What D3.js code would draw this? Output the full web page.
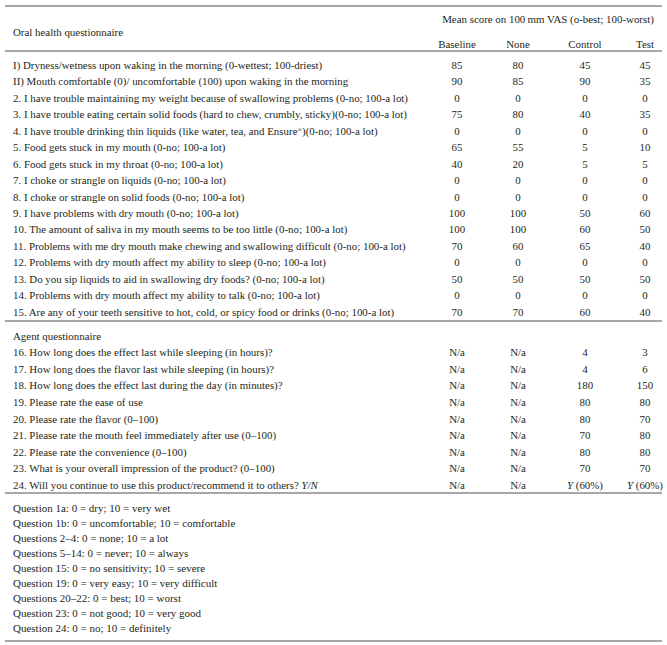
<!DOCTYPE html>
<html>
<head>
<meta charset="utf-8">
<script src="https://cdn.jsdelivr.net/npm/d3@7"></script>
<style>
  body { margin: 0; background: #fff; }
  text { font-family: "Liberation Serif", "DejaVu Serif", serif; fill: #231f20; }
</style>
</head>
<body>
<div id="wrapper"></div>
<script>
// table data
const columns = ['Baseline', 'None', 'Control', 'Test']

const oralQuestions = [
  'I) Dryness/wetness upon waking in the morning (0-wettest; 100-driest)',
  'II) Mouth comfortable (0)/ uncomfortable (100) upon waking in the morning',
  '2. I have trouble maintaining my weight because of swallowing problems (0-no; 100-a lot)',
  '3. I have trouble eating certain solid foods (hard to chew, crumbly, sticky)(0-no; 100-a lot)',
  '4. I have trouble drinking thin liquids (like water, tea, and Ensure®)(0-no; 100-a lot)',
  '5. Food gets stuck in my mouth (0-no; 100-a lot)',
  '6. Food gets stuck in my throat (0-no; 100-a lot)',
  '7. I choke or strangle on liquids (0-no; 100-a lot)',
  '8. I choke or strangle on solid foods (0-no; 100-a lot)',
  '9. I have problems with dry mouth (0-no; 100-a lot)',
  '10. The amount of saliva in my mouth seems to be too little (0-no; 100-a lot)',
  '11. Problems with me dry mouth make chewing and swallowing difficult (0-no; 100-a lot)',
  '12. Problems with dry mouth affect my ability to sleep (0-no; 100-a lot)',
  '13. Do you sip liquids to aid in swallowing dry foods? (0-no; 100-a lot)',
  '14. Problems with dry mouth affect my ability to talk (0-no; 100-a lot)',
  '15. Are any of your teeth sensitive to hot, cold, or spicy food or drinks (0-no; 100-a lot)'
]
const oralBaseline = [85, 90, 0, 75, 0, 65, 40, 0, 0, 100, 100, 70, 0, 50, 0, 70]
const oralNone     = [80, 85, 0, 80, 0, 55, 20, 0, 0, 100, 100, 60, 0, 50, 0, 70]
const oralControl  = [45, 90, 0, 40, 0, 5, 5, 0, 0, 50, 60, 65, 0, 50, 0, 60]
const oralTest     = [45, 35, 0, 35, 0, 10, 5, 0, 0, 60, 50, 40, 0, 50, 0, 40]

const agentQuestions = [
  '16. How long does the effect last while sleeping (in hours)?',
  '17. How long does the flavor last while sleeping (in hours)?',
  '18. How long does the effect last during the day (in minutes)?',
  '19. Please rate the ease of use',
  '20. Please rate the flavor (0–100)',
  '21. Please rate the mouth feel immediately after use (0–100)',
  '22. Please rate the convenience (0–100)',
  '23. What is your overall impression of the product? (0–100)',
  '24. Will you continue to use this product/recommend it to others? Y/N'
]
const agentBaseline = ['N/a', 'N/a', 'N/a', 'N/a', 'N/a', 'N/a', 'N/a', 'N/a', 'N/a']
const agentNone     = ['N/a', 'N/a', 'N/a', 'N/a', 'N/a', 'N/a', 'N/a', 'N/a', 'N/a']
const agentControl  = ['4', '4', '180', '80', '80', '70', '80', '70', 'Y (60%)']
const agentTest     = ['3', '6', '150', '80', '70', '80', '80', '70', 'Y (60%)']

const footnotes = [
  'Question 1a: 0 = dry; 10 = very wet',
  'Question 1b: 0 = uncomfortable; 10 = comfortable',
  'Questions 2–4: 0 = none; 10 = a lot',
  'Questions 5–14: 0 = never; 10 = always',
  'Question 15: 0 = no sensitivity; 10 = severe',
  'Question 19: 0 = very easy; 10 = very difficult',
  'Questions 20–22: 0 = best; 10 = worst',
  'Question 23: 0 = not good; 10 = very good',
  'Question 24: 0 = no; 10 = definitely'
]

function drawTable() {
  const width = 667
  const height = 645
  const left = 13
  const fontSize = 10.9

  const svg = d3.select('#wrapper')
    .append('svg')
      .attr('width', width)
      .attr('height', height)

  // scales
  const colX = d3.scaleOrdinal()
    .domain(columns)
    .range([457, 518, 585, 645])

  const oralY = d3.scaleLinear()
    .domain([0, oralQuestions.length - 1])
    .range([65, 312])

  const agentY = d3.scaleLinear()
    .domain([-1, agentQuestions.length - 1])
    .range([336, 485])

  const noteY = d3.scaleLinear()
    .domain([0, footnotes.length - 1])
    .range([508, 628])

  // rules
  const rules = [6, 51, 321, 493, 641]
  svg.selectAll('.rule')
    .data(rules)
    .enter().append('line')
      .attr('class', 'rule')
      .attr('x1', 5)
      .attr('x2', 662)
      .attr('y1', d => d)
      .attr('y2', d => d)
      .attr('stroke', '#8a8a8a')
      .attr('stroke-width', 1.3)

  // header
  svg.append('text')
    .attr('x', left)
    .attr('y', 32)
    .attr('dy', '0.35em')
    .style('font-size', fontSize + 'px')
    .text('Oral health questionnaire')

  svg.append('text')
    .attr('x', 548)
    .attr('y', 19)
    .attr('dy', '0.35em')
    .attr('text-anchor', 'middle')
    .style('font-size', fontSize + 'px')
    .text('Mean score on 100\u2009mm VAS (o-best; 100-worst)')

  svg.selectAll('.colhead')
    .data(columns)
    .enter().append('text')
      .attr('class', 'colhead')
      .attr('x', d => colX(d))
      .attr('y', 44)
      .attr('dy', '0.35em')
      .attr('text-anchor', 'middle')
      .style('font-size', fontSize + 'px')
      .text(d => d)

  // label with superscript ® and italic Y/N
  const writeLabel = (sel, label) => {
    if (label.includes('®')) {
      const [a, b] = label.split('®')
      sel.append('tspan').text(a)
      sel.append('tspan').attr('dy', -3).style('font-size', '6px').text('®')
      sel.append('tspan').attr('dy', 3).text(b)
    } else if (label.endsWith('Y/N')) {
      sel.append('tspan').text(label.slice(0, -3))
      sel.append('tspan').style('font-style', 'italic').text('Y/N')
    } else {
      sel.text(label)
    }
  }

  const writeValue = (sel, v) => {
    v = String(v)
    if (v.startsWith('Y ')) {
      sel.append('tspan').style('font-style', 'italic').text('Y')
      sel.append('tspan').text(v.slice(1))
    } else {
      sel.text(v)
    }
  }

  const drawRows = (questions, series, yScale, cls) => {
    const rows = svg.selectAll('.' + cls)
      .data(questions.map((q, i) => ({ q, i })))
      .enter().append('g')
        .attr('class', cls)
        .attr('transform', d => `translate(0, ${yScale(d.i)})`)

    rows.append('text')
      .attr('x', left)
      .attr('dy', '0.35em')
      .style('font-size', fontSize + 'px')
      .each(function(d) { writeLabel(d3.select(this), d.q) })

    columns.forEach((c, ci) => {
      rows.append('text')
        .attr('x', colX(c))
        .attr('dy', '0.35em')
        .attr('text-anchor', 'middle')
        .style('font-size', fontSize + 'px')
        .each(function(d) { writeValue(d3.select(this), series[ci][d.i]) })
    })
  }

  drawRows(oralQuestions, [oralBaseline, oralNone, oralControl, oralTest], oralY, 'oral')

  svg.append('text')
    .attr('x', left)
    .attr('y', agentY(-1))
    .attr('dy', '0.35em')
    .style('font-size', fontSize + 'px')
    .text('Agent questionnaire')

  drawRows(agentQuestions, [agentBaseline, agentNone, agentControl, agentTest], agentY, 'agent')

  svg.selectAll('.note')
    .data(footnotes)
    .enter().append('text')
      .attr('class', 'note')
      .attr('x', left)
      .attr('y', (d, i) => noteY(i))
      .attr('dy', '0.35em')
      .style('font-size', '11px')
      .text(d => d)
}
drawTable()
</script>
</body>
</html>
